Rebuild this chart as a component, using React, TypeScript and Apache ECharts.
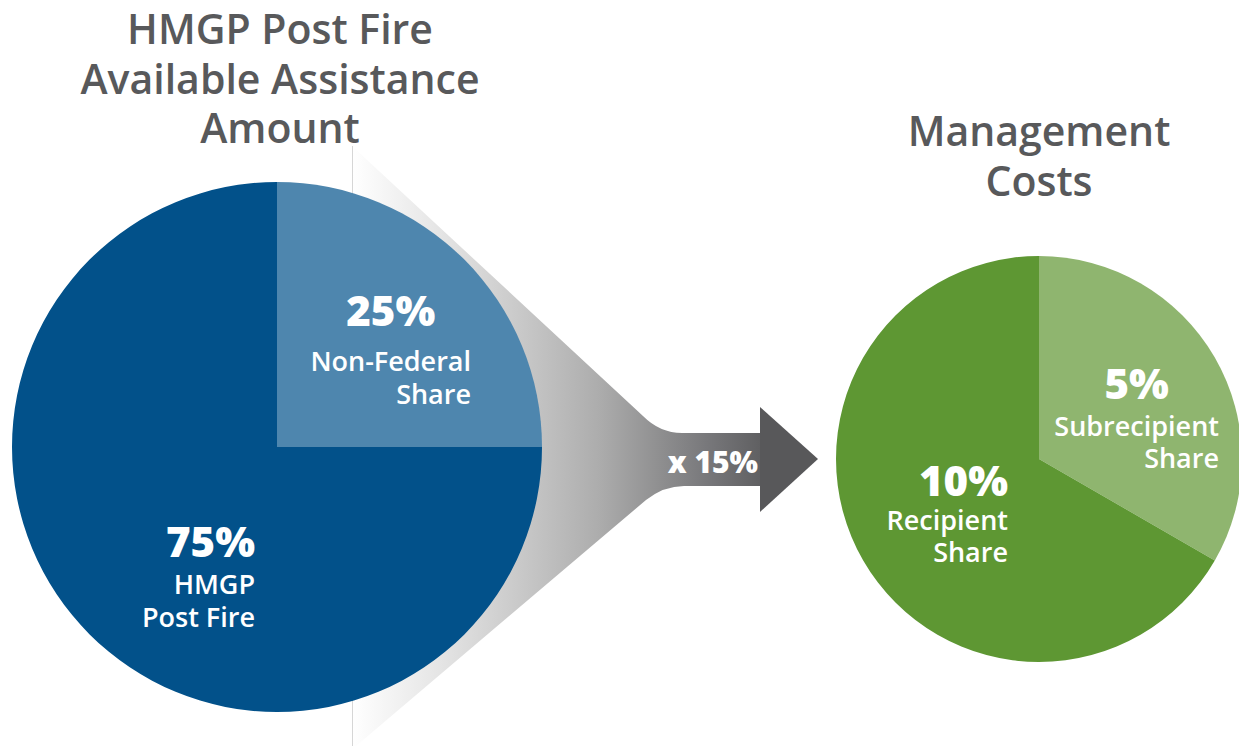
import React, { useEffect, useRef } from "react";
import * as echarts from "echarts";

// ---- data ----
const leftCategories = ["Non-Federal Share", "HMGP Post Fire"];
const leftValues = [25, 75];
const rightCategories = ["Subrecipient Share", "Recipient Share"];
const rightValues = [5, 10];
const multiplierLabel = "x 15%";
const leftTitle = ["HMGP Post Fire", "Available Assistance", "Amount"];
const rightTitle = ["Management", "Costs"];

const FONT = "'Open Sans', Lato, sans-serif";

const funnelD =
  "M352 146 L643 416 Q660 433 682 433 L762 433 L762 486 L684 486 Q664 486 646 500 L356 746 L352 746 Z";

export default function App() {
  const ref = useRef<HTMLDivElement>(null);
  useEffect(() => {
    if (!ref.current) return;
    try {
      echarts.graphic.registerShape("funnel", echarts.graphic.extendPath(funnelD, {}));
    } catch (e) {}
    const chart = echarts.init(ref.current, undefined, { renderer: "svg" });

    const T = 41;
    const P = 42;
    const S = 27;

    const txt = (
      text: string,
      x: number,
      baseline: number,
      size: number,
      weight: number | string,
      fill: string,
      align: string
    ) => ({
      type: "text",
      z: 20,
      x,
      y: baseline - size * 0.36,
      silent: true,
      style: {
        text,
        fill,
        font: `${weight} ${size}px ${FONT}`,
        align,
        verticalAlign: "middle",
      },
    });

    // one label block: percentage line + two name lines, right-aligned block
    const block = (
      pct: string,
      lines: string[],
      right: number,
      firstBaseline: number,
      pLineH: number,
      sLineH: number,
      pAlign: string
    ) => ({
      type: "text",
      z: 20,
      x: right,
      y: firstBaseline - pLineH / 2 - 0.36 * P,
      silent: true,
      style: {
        text: `{p|${pct}}\n` + lines.map((l) => `{s|${l}}`).join("\n"),
        align: "right",
        verticalAlign: "top",
        fill: "#ffffff",
        rich: {
          p: {
            fontSize: P,
            fontWeight: 800,
            fontFamily: FONT,
            lineHeight: pLineH,
            fill: "#ffffff",
            align: pAlign,
          },
          s: {
            fontSize: S,
            fontWeight: 600,
            fontFamily: FONT,
            lineHeight: sLineH,
            fill: "#ffffff",
            align: "right",
          },
        },
      },
    });

    const splitLabel = (s: string) => {
      const i = s.lastIndexOf(" ");
      return [s.slice(0, i), s.slice(i + 1)];
    };
    const nf = splitLabel(leftCategories[0]);
    const hp = ["HMGP", "Post Fire"];
    const sr = splitLabel(rightCategories[0]);
    const rc = splitLabel(rightCategories[1]);

    const titleColor = "#58595b";
    const option: any = {
      animation: false,
      backgroundColor: "#ffffff",
      graphic: [
        {
          type: "funnel",
          x: 0,
          y: 0,
          z: 0,
          silent: true,
          style: {
            fill: new echarts.graphic.LinearGradient(0, 0, 1, 0, [
              { offset: 0, color: "#ffffff" },
              { offset: 0.22, color: "#e4e4e4" },
              { offset: 0.45, color: "#c3c3c3" },
              { offset: 0.6, color: "#adadad" },
              { offset: 0.75, color: "#8f8f90" },
              { offset: 0.87, color: "#77777a" },
              { offset: 1, color: "#5f5f61" },
            ]),
          },
        },
        {
          type: "line",
          z: 1,
          silent: true,
          shape: { x1: 352.5, y1: 146, x2: 352.5, y2: 746 },
          style: { stroke: "#d6d6d6", lineWidth: 1 },
        },
        {
          type: "polygon",
          z: 1,
          silent: true,
          shape: { points: [[760, 407], [818, 459], [760, 512]] },
          style: { fill: "#58585a" },
        },
        txt(multiplierLabel, 758, 472, 30, 800, "#ffffff", "right"),
        // titles
        txt(leftTitle[0], 280, 43, T, 600, titleColor, "center"),
        txt(leftTitle[1], 280, 93, T, 600, titleColor, "center"),
        txt(leftTitle[2], 280, 142, T, 600, titleColor, "center"),
        txt(rightTitle[0], 1039, 145, T, 600, titleColor, "center"),
        txt(rightTitle[1], 1039, 195, T, 600, titleColor, "center"),
        // pie labels
        block(`${leftValues[0]}%`, nf, 471, 325, 68, 33, "center"),
        block(`${leftValues[1]}%`, hp, 255, 556, 52, 33, "right"),
        block(`${rightValues[0]}%`, sr, 1219, 398, 54, 32, "center"),
        block(`${rightValues[1]}%`, rc, 1008, 495, 48, 32, "right"),
      ],
      series: [
        {
          type: "pie",
          z: 5,
          center: [277, 447],
          radius: [0, 265],
          startAngle: 90,
          clockwise: true,
          silent: true,
          label: { show: false },
          labelLine: { show: false },
          itemStyle: { borderWidth: 0 },
          data: leftCategories.map((name, i) => ({
            name,
            value: leftValues[i],
            itemStyle: { color: i === 0 ? "#4e86ae" : "#02518a" },
          })),
        },
        {
          type: "pie",
          z: 5,
          center: [1039, 459],
          radius: [0, 203],
          startAngle: 90,
          clockwise: true,
          silent: true,
          label: { show: false },
          labelLine: { show: false },
          itemStyle: { borderWidth: 0 },
          data: rightCategories.map((name, i) => ({
            name,
            value: rightValues[i],
            itemStyle: { color: i === 0 ? "#8fb56f" : "#5e9733" },
          })),
        },
      ],
    };
    chart.setOption(option);
    return () => chart.dispose();
  }, []);
  return (
    <div
      ref={ref}
      style={{ position: "absolute", left: 0, top: 0, width: 1239, height: 746 }}
    />
  );
}
